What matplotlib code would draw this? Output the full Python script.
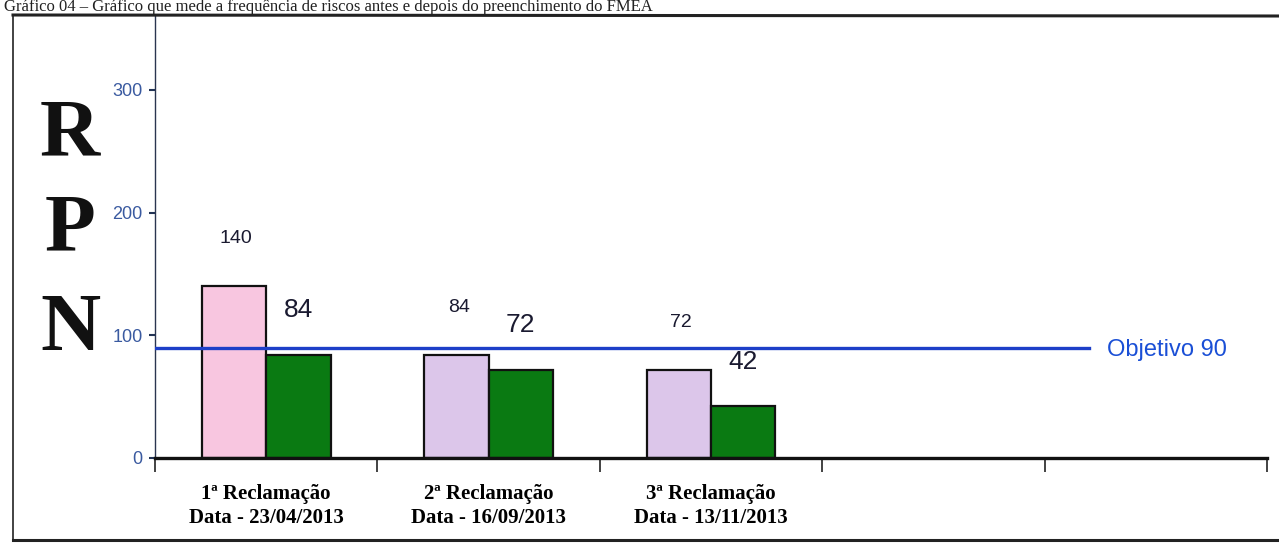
import numpy as np
import matplotlib
matplotlib.use("Agg")
from matplotlib import pyplot as plt
from matplotlib.lines import Line2D

# valores do RPN antes e depois do FMEA, por reclamação
categorias = ["1ª Reclamação\nData - 23/04/2013",
              "2ª Reclamação\nData - 16/09/2013",
              "3ª Reclamação\nData - 13/11/2013",
              "", ""]
rpn_antes = [140, 84, 72]
rpn_depois = [84, 72, 42]
objetivo = 90
yticks = [0, 100, 200, 300]

estreita = ["Liberation Sans", "DejaVu Sans"]
serifa = ["Liberation Serif", "DejaVu Serif"]

fig = plt.figure(figsize=(12.79, 5.44), dpi=100)
ax = fig.add_axes([155 / 1279, 86 / 544, 1112 / 1279, 443 / 544])

n = len(categorias)
x = np.arange(len(rpn_antes))
larg = 0.29
cores_antes = ["#f8c6e0", "#dcc6ea", "#dcc6ea"]
b1 = ax.bar(x - larg / 2, rpn_antes, larg, color=cores_antes,
            edgecolor="#111111", linewidth=1.6, zorder=2)
b2 = ax.bar(x + larg / 2, rpn_depois, larg, color="#0a7a12",
            edgecolor="#111111", linewidth=1.6, zorder=2)

# rótulos dos valores
for ret, v in zip(b1, rpn_antes):
    ax.annotate(str(v), (ret.get_x() + ret.get_width() / 2 + 0.01, v),
                xytext=(0, 34), textcoords="offset points",
                ha="center", va="center", fontsize=14, color="#1a1a30",
                family=estreita)
for ret, v in zip(b2, rpn_depois):
    ax.annotate(str(v), (ret.get_x() + ret.get_width() / 2, v),
                xytext=(0, 32), textcoords="offset points",
                ha="center", va="center", fontsize=19, color="#1a1a30",
                family=estreita)

# linha do objetivo
ax.plot([-0.5, 3.7], [objetivo, objetivo], color="#1d3fc8", lw=2.4, zorder=3)
ax.text(3.78, objetivo - 2, f"Objetivo {objetivo}", color="#1a4fd6",
        fontsize=17, family=estreita, va="center", ha="left")

ax.set_xlim(-0.5, n - 0.5)
ax.set_ylim(0, 361)

ax.set_xticks(np.arange(n))
ax.set_xticklabels(categorias, family=serifa, fontweight="bold", fontsize=15,
                   linespacing=1.25)
ax.set_xticks(np.arange(n + 1) - 0.5, minor=True)
ax.tick_params(axis="x", which="major", length=0, pad=19)
ax.tick_params(axis="x", which="minor", length=10, width=1.2, color="#222222")

ax.set_yticks(yticks)
ax.set_yticklabels([str(t) for t in yticks], family=estreita, fontsize=13,
                   color="#3a5aa0")
ax.tick_params(axis="y", length=4, width=1.5, color="#223355", pad=5)

for lado in ["top", "right"]:
    ax.spines[lado].set_visible(False)
ax.spines["bottom"].set_linewidth(2.4)
ax.spines["bottom"].set_color("#111111")
ax.spines["left"].set_linewidth(1.0)
ax.spines["left"].set_color("#2a3550")

# letras R P N ao lado do eixo
for letra, yy in zip("RPN", [136, 231, 330]):
    fig.text(70 / 1279, 1 - yy / 544, letra, family=serifa, fontweight="bold",
             fontsize=60, ha="center", va="center", color="#111111")

# moldura e legenda do gráfico
fig.add_artist(Line2D([13 / 1279, 13 / 1279], [1 - 540 / 544, 1 - 15 / 544],
                      transform=fig.transFigure, color="#222222", lw=1.2))
fig.add_artist(Line2D([13 / 1279, 1], [1 - 15 / 544, 1 - 16 / 544],
                      transform=fig.transFigure, color="#222222", lw=2.2))
fig.add_artist(Line2D([13 / 1279, 1], [1 - 540 / 544, 1 - 540 / 544],
                      transform=fig.transFigure, color="#222222", lw=2.2))
fig.text(4 / 1279, 1 - 11 / 544,
         "Gráfico 04 – Gráfico que mede a frequência de riscos antes e depois do preenchimento do FMEA",
         family=serifa, fontsize=12, va="baseline", ha="left", color="#222222")

fig.savefig("out.png", dpi=100)
